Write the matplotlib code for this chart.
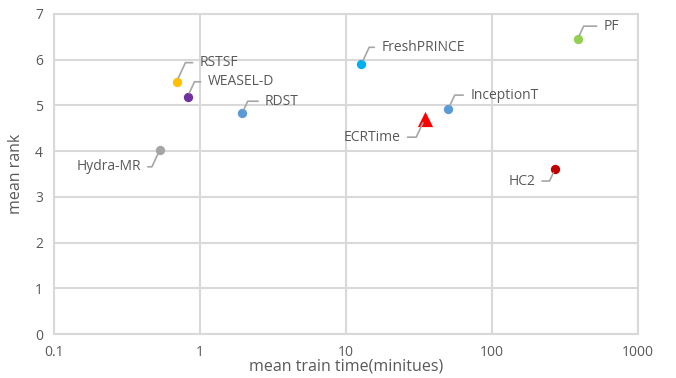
import matplotlib.pyplot as plt
from matplotlib.ticker import FixedLocator, FixedFormatter

# values
names = ['RSTSF', 'WEASEL-D', 'RDST', 'Hydra-MR', 'FreshPRINCE',
         'InceptionT', 'ECRTime', 'PF', 'HC2']
train_time = [0.69, 0.82, 1.94, 0.53, 12.7, 50.0, 34.5, 385.0, 270.0]
mean_rank = [5.52, 5.19, 4.83, 4.03, 5.90, 4.92, 4.70, 6.45, 3.61]
colors = ['#FFC000', '#7030A0', '#5B9BD5', '#A5A5A5', '#00B0F0',
          '#5B9BD5', '#FF0000', '#92D050', '#C00000']
markers = ['o', 'o', 'o', 'o', 'o', 'o', '^', 'o', 'o']

# label offsets in pixels (dx, dy), dy positive = up
offsets = {
    'RSTSF': (23, 19), 'WEASEL-D': (20, 15), 'RDST': (23, 12),
    'Hydra-MR': (-19, -17), 'FreshPRINCE': (20, 17), 'InceptionT': (22, 14),
    'ECRTime': (-24, -18), 'PF': (26, 13), 'HC2': (-20, -12),
}

plt.rcParams['font.family'] = ['Open Sans', 'DejaVu Sans']
txt = '#595959'
grid = '#D9D9D9'

fig = plt.figure(figsize=(6.76, 3.78), dpi=100)
ax = fig.add_axes([0.08, 0.116, 0.864, 0.847])

for n, x, y, c, m in zip(names, train_time, mean_rank, colors, markers):
    s = 120 if m == '^' else 45
    ax.scatter(x, y, s=s, color=c, marker=m, zorder=3, linewidths=0)
    dx, dy = offsets[n]
    dx, dy = dx * 0.72, dy * 0.72
    right = dx > 0
    ax.annotate(n, (x, y), xytext=(dx, dy), textcoords='offset points',
                ha='left' if right else 'right', va='center',
                fontsize=10, color=txt,
                arrowprops=dict(arrowstyle='-', color='#A6A6A6', lw=1.2,
                                shrinkA=3, shrinkB=3,
                                relpos=(0, 0.5) if right else (1, 0.5),
                                connectionstyle='angle,angleA=0,angleB=%d,rad=0'
                                % (65 if right else 245)))

ax.set_xscale('log')
ax.set_xlim(0.1, 1000)
ax.set_ylim(0, 7)
ax.xaxis.set_major_locator(FixedLocator([0.1, 1, 10, 100, 1000]))
ax.xaxis.set_major_formatter(FixedFormatter(['0.1', '1', '10', '100', '1000']))
ax.xaxis.set_minor_locator(FixedLocator([]))
ax.set_yticks(range(8))
ax.grid(True, color=grid, lw=1.5)
ax.set_axisbelow(True)
for sp in ax.spines.values():
    sp.set_color(grid)
    sp.set_linewidth(1.5)
ax.tick_params(length=0, labelsize=10, colors=txt, pad=8)
ax.set_xlabel('mean train time(minitues)', fontsize=11.5, color=txt, labelpad=-1)
ax.set_ylabel('mean rank', fontsize=11.5, color=txt, labelpad=8)

fig.savefig('out.png', dpi=100)
